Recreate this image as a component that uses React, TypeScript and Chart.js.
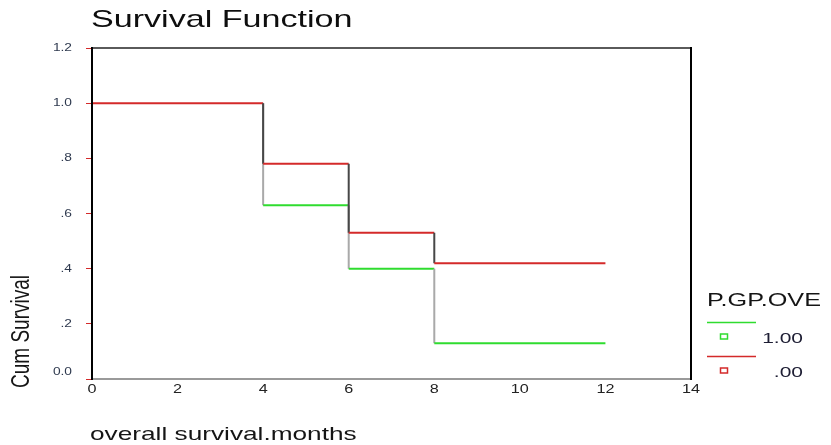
import React, { useEffect, useRef } from "react";
import { Chart, registerables } from "chart.js";

Chart.register(...registerables);

// ---- data ----
const stepTimes = [0, 4, 6, 8, 12]; // months
const survivalGroup1 = [1.0, 0.63, 0.4, 0.13, 0.13]; // P.GP.OVE = 1.00
const survivalGroup0 = [1.0, 0.78, 0.53, 0.42, 0.42]; // P.GP.OVE = .00
const legendTitle = "P.GP.OVE";
const legendLabels = ["1.00", ".00"];
const chartTitle = "Survival Function";
const xAxisTitle = "overall survival.months";
const yAxisTitle = "Cum Survival";
const xMin = 0, xMax = 14, xStep = 2;
const yMin = 0, yMax = 1.2, yStep = 0.2;

const GREEN = "#2fdc2f";
const RED = "#d42a2a";
const GREEN_DROP = "#a9a9a9";
const RED_DROP = "#474747";
const FONT = '"Liberation Sans", Arial, sans-serif';

function stepPoints(times: number[], surv: number[]) {
  const pts: { x: number; y: number }[] = [];
  times.forEach((t, i) => {
    if (i > 0) pts.push({ x: t, y: surv[i - 1] });
    pts.push({ x: t, y: surv[i] });
  });
  return pts;
}

// survival value of a step function at time t (right-continuous)
function survAt(times: number[], surv: number[], t: number) {
  let v = surv[0];
  times.forEach((tt, i) => { if (tt <= t) v = surv[i]; });
  return v;
}

function fmtY(v: number) {
  const r = Math.round(v * 10) / 10;
  if (r === 0) return "0.0";
  if (r >= 1) return r.toFixed(1);
  return r.toFixed(1).replace(/^0/, "");
}

function drawText(
  ctx: CanvasRenderingContext2D,
  text: string,
  x: number,
  y: number,
  size: number,
  color: string,
  align: CanvasTextAlign,
  baseline: CanvasTextBaseline,
  sx: number
) {
  ctx.save();
  ctx.translate(x, y);
  ctx.scale(sx, 1);
  ctx.font = `${size}px ${FONT}`;
  ctx.fillStyle = color;
  ctx.textAlign = align;
  ctx.textBaseline = baseline;
  ctx.fillText(text, 0, 0);
  ctx.restore();
}

const decorPlugin = {
  id: "decor",
  afterDatasetsDraw(chart: any) {
    const ctx: CanvasRenderingContext2D = chart.ctx;
    const { left, right, top, bottom } = chart.chartArea;
    ctx.save();
    ctx.lineWidth = 2;
    ctx.lineCap = "square";
    ctx.strokeStyle = "#5a5a5a";
    ctx.beginPath(); ctx.moveTo(left, top); ctx.lineTo(right, top); ctx.stroke();
    ctx.strokeStyle = "#9a9a9a";
    ctx.beginPath(); ctx.moveTo(left, bottom); ctx.lineTo(right, bottom); ctx.stroke();
    ctx.strokeStyle = "#000";
    ctx.beginPath(); ctx.moveTo(left, top); ctx.lineTo(left, bottom); ctx.stroke();
    ctx.beginPath(); ctx.moveTo(right, top); ctx.lineTo(right, bottom); ctx.stroke();
    ctx.restore();
  },
  afterDraw(chart: any) {
    const ctx: CanvasRenderingContext2D = chart.ctx;
    const { left, bottom } = chart.chartArea;
    const xs = chart.scales.x;
    const ys = chart.scales.y;

    drawText(ctx, chartTitle, left - 1, 27, 24, "#0e0e0e", "left", "alphabetic", 1.42);

    ys.ticks.forEach((t: any) => {
      let py = ys.getPixelForValue(t.value);
      if (Math.round(t.value * 10) === 0) py -= 7;
      drawText(ctx, fmtY(t.value), left - 20, py, 11, "#2f3a4f", "right", "middle", 1.25);
    });
    xs.ticks.forEach((t: any) => {
      const px = xs.getPixelForValue(t.value);
      drawText(ctx, String(Math.round(t.value)), px, bottom + 11, 12, "#222", "center", "middle", 1.35);
    });

    drawText(ctx, xAxisTitle, left - 2, 440, 19, "#151515", "left", "alphabetic", 1.38);

    ctx.save();
    ctx.translate(22, 388);
    ctx.rotate(-Math.PI / 2);
    ctx.scale(1, 1.4);
    ctx.font = `19px ${FONT}`;
    ctx.fillStyle = "#151515";
    ctx.textAlign = "left";
    ctx.textBaseline = "middle";
    ctx.fillText(yAxisTitle, 0, 0);
    ctx.restore();

    drawText(ctx, legendTitle, 707, 301, 18, "#151515", "left", "middle", 1.4);
    const colors = [GREEN, RED];
    legendLabels.forEach((lab, i) => {
      const ly = 322.5 + i * 34;
      ctx.save();
      ctx.strokeStyle = colors[i];
      ctx.lineWidth = 1.5;
      ctx.beginPath(); ctx.moveTo(707, ly); ctx.lineTo(756, ly); ctx.stroke();
      ctx.strokeRect(720.5, ly + 11.5, 7, 5);
      ctx.restore();
      drawText(ctx, lab, 803, ly + 16, 15, "#1d1d33", "right", "middle", 1.4);
    });
  },
};

export default function App() {
  const ref = useRef<HTMLCanvasElement | null>(null);
  useEffect(() => {
    if (!ref.current) return;
    const greenColor = (c: any) => {
      const x0 = c.p0.parsed.x, x1 = c.p1.parsed.x, y = c.p0.parsed.y;
      if (x0 === x1) return GREEN_DROP;
      // hidden where it lies exactly under the other group's line
      if (c.p1.parsed.y === y && survAt(stepTimes, survivalGroup0, (x0 + x1) / 2) === y) return "rgba(0,0,0,0)";
      return GREEN;
    };
    const chart = new Chart(ref.current, {
      type: "line",
      data: {
        datasets: [
          {
            label: legendLabels[1],
            data: stepPoints(stepTimes, survivalGroup0),
            borderColor: RED,
            borderWidth: 2,
            pointRadius: 0,
            tension: 0,
            order: 0,
            segment: {
              borderColor: (c: any) => (c.p0.parsed.x === c.p1.parsed.x ? RED_DROP : RED),
            },
          },
          {
            label: legendLabels[0],
            data: stepPoints(stepTimes, survivalGroup1),
            borderColor: GREEN,
            borderWidth: 2,
            pointRadius: 0,
            tension: 0,
            order: 1,
            segment: { borderColor: greenColor },
          },
        ],
      },
      options: {
        animation: false,
        responsive: false,
        devicePixelRatio: 1,
        layout: { padding: { left: 0, top: 48, right: 140, bottom: 0 } },
        plugins: { legend: { display: false }, title: { display: false }, tooltip: { enabled: false } },
        events: [],
        scales: {
          x: {
            type: "linear",
            min: xMin,
            max: xMax,
            ticks: { stepSize: xStep, display: false },
            grid: { display: false },
            border: { display: false },
            afterFit: (s: any) => { s.height = 66; },
          },
          y: {
            type: "linear",
            min: yMin,
            max: yMax,
            ticks: { stepSize: yStep, display: false },
            grid: { display: true, drawOnChartArea: false, drawTicks: true, tickLength: 6, color: "#d42a2a", lineWidth: 1 },
            border: { display: false },
            afterFit: (s: any) => { s.width = 92; },
          },
        },
      },
      plugins: [decorPlugin],
    } as any);
    return () => chart.destroy();
  }, []);
  return (
    <div style={{ position: "absolute", left: 0, top: 0, width: 831, height: 445, background: "#fff" }}>
      <canvas ref={ref} width={831} height={445} style={{ display: "block" }} />
    </div>
  );
}
